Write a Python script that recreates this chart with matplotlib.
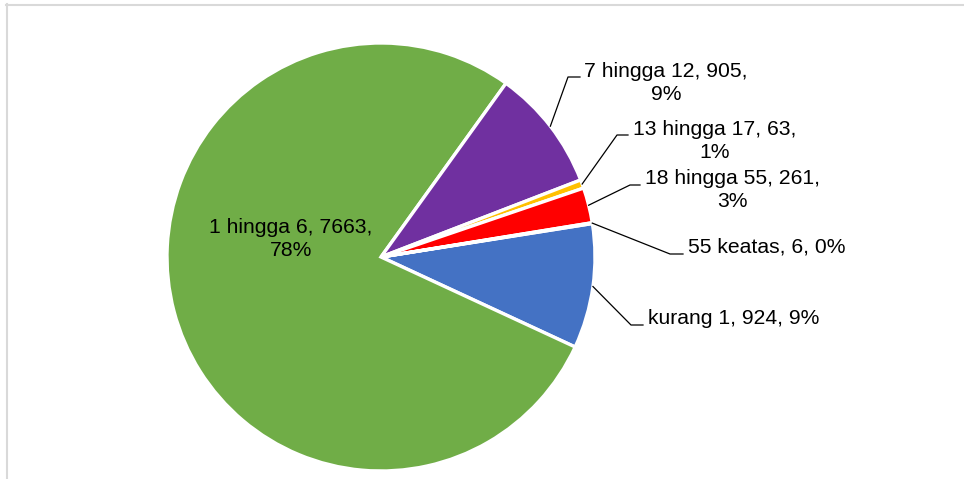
import numpy as np
import matplotlib
matplotlib.use("Agg")
import matplotlib.pyplot as plt
from matplotlib.lines import Line2D

plt.rcParams['font.family'] = ['Liberation Sans', 'DejaVu Sans']

# data
categories = ["kurang 1", "1 hingga 6", "7 hingga 12", "13 hingga 17", "18 hingga 55", "55 keatas"]
values = [924, 7663, 905, 63, 261, 6]
colors = ["#4472C4", "#70AD47", "#7030A0", "#FFC000", "#FF0000", "#A9D18E"]

# label layout in pixels (from top-left): text left/center x, text center y,
# leader elbow x, elbow y, leader end x  (None = label inside slice)
label_text_xy = [(648, 319), (291, 239), (584, 83), (633, 141), (645, 190), (688, 247)]
leader_elbow = [(631, 325), None, (568, 77), (617, 135), (630, 185), (670, 254)]
leader_end_x = [643, None, 580, 628, 640, 683]

W, H = 964, 479
fig = plt.figure(figsize=(W / 100, H / 100), dpi=100)

cx, cy, r = 381, 257, 214
ax = fig.add_axes([(cx - r) / W, (H - cy - r) / H, 2 * r / W, 2 * r / H])
wedges, _ = ax.pie(values, colors=colors, startangle=9, counterclock=False,
                   radius=1, wedgeprops=dict(edgecolor="white", linewidth=2.4))
ax.set_xlim(-1, 1)
ax.set_ylim(-1, 1)
ax.axis("off")

def px2data(px, py):
    return (px - cx) / r, (cy - py) / r

total = sum(values)
for i, (cat, v) in enumerate(zip(categories, values)):
    pct = round(v / total * 100)
    w = wedges[i]
    if leader_elbow[i] is None:
        tx, ty = px2data(*label_text_xy[i])
        ax.text(tx, ty, f"{cat}, {v},\n{pct}%", ha="center", va="center",
                fontsize=15.2, linespacing=1.25)
        continue
    mid = np.deg2rad((w.theta1 + w.theta2) / 2)
    sx, sy = np.cos(mid), np.sin(mid)
    ex, ey = px2data(*leader_elbow[i])
    fx, _ = px2data(leader_end_x[i], 0)
    ax.plot([sx, ex, fx], [sy, ey, ey], color="black", lw=0.9, clip_on=False)
    tx, ty = px2data(*label_text_xy[i])
    if cat in ("kurang 1", "55 keatas"):
        txt = f"{cat}, {v}, {pct}%"
    else:
        txt = f"{cat}, {v},\n{pct}%"
    ax.text(tx, ty, txt, ha="left", va="center", multialignment="center",
            fontsize=15.2, linespacing=1.25, clip_on=False)

# chart area border (only top and left visible in crop)
fig.add_artist(Line2D([7 / W, 7 / W], [0, 1 - 4 / H], color="#D9D9D9", lw=1.5))
fig.add_artist(Line2D([6 / W, 1], [1 - 5 / H, 1 - 5 / H], color="#D9D9D9", lw=1.5))

fig.savefig("out.png", dpi=100)
